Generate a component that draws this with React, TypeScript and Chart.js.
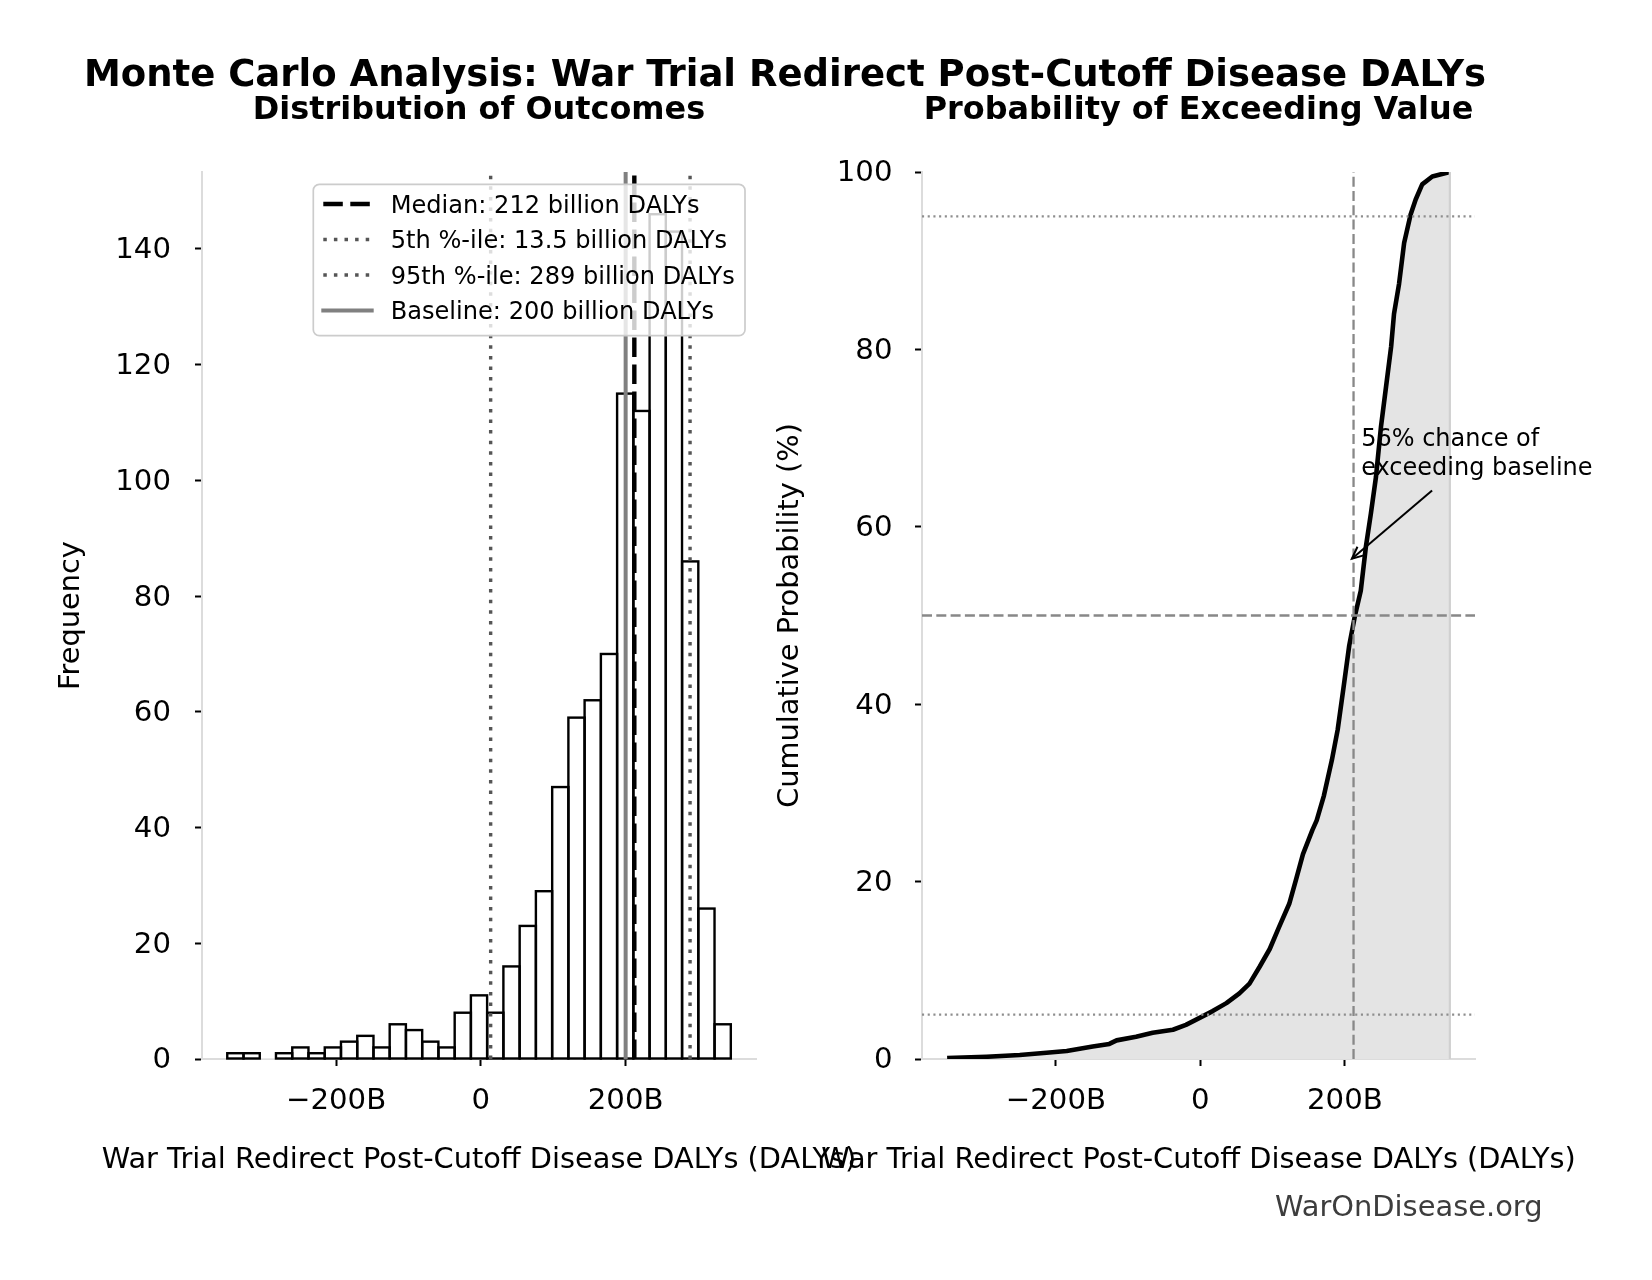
import React, { useEffect, useRef } from 'react';
import { Chart, registerables } from 'chart.js';

Chart.register(...registerables);

const FONT = '"DejaVu Sans", "Liberation Sans", sans-serif';

// ---------- Data ----------
const suptitleText = 'Monte Carlo Analysis: War Trial Redirect Post-Cutoff Disease DALYs';
const leftTitle = 'Distribution of Outcomes';
const rightTitle = 'Probability of Exceeding Value';
const xAxisTitle = 'War Trial Redirect Post-Cutoff Disease DALYs (DALYs)';
const leftYTitle = 'Frequency';
const rightYTitle = 'Cumulative Probability (%)';
const watermarkText = 'WarOnDisease.org';

// histogram bins (centers in billions of DALYs) and counts
const binCenters = [-339.2, -316.7, -294.3, -271.9, -249.4, -227.0, -204.5, -182.1, -159.6, -137.2, -114.8, -92.3, -69.9, -47.4, -25.0, -2.6, 19.9, 42.3, 64.8, 87.2, 109.7, 132.1, 154.5, 177.0, 199.4, 221.9, 244.3, 266.7, 289.2, 311.6, 334.1];
const binCounts = [1, 1, 0, 1, 2, 1, 2, 3, 4, 2, 6, 5, 3, 2, 8, 11, 8, 16, 23, 29, 47, 59, 62, 70, 115, 112, 146, 143, 86, 26, 6];

const medianValue = 212;
const p5Value = 13.5;
const p95Value = 289;
const baselineValue = 200;

const legendLabels = [
  'Median: 212 billion DALYs',
  '5th %-ile: 13.5 billion DALYs',
  '95th %-ile: 289 billion DALYs',
  'Baseline: 200 billion DALYs',
];

// cumulative distribution (billions, percent)
const cdfValues = [-350.5, -296, -250, -213, -185, -149, -126, -116, -89, -66, -38, -20, 3, 17, 36, 54, 68, 82, 96, 109, 123, 132, 142, 155, 161, 171, 182, 190, 198, 206, 214, 222, 229, 236, 243, 250, 257, 264, 268, 275, 282, 291, 298, 307, 321, 345.3];
const cdfPercent = [0.1, 0.25, 0.45, 0.7, 0.9, 1.4, 1.7, 2.1, 2.5, 2.95, 3.3, 3.85, 4.8, 5.4, 6.3, 7.4, 8.5, 10.4, 12.4, 14.9, 17.5, 20.1, 23.1, 25.8, 26.9, 29.7, 33.7, 37.1, 41.8, 46.6, 50.0, 52.8, 57.7, 61.5, 65.6, 71.3, 75.8, 80.3, 84.0, 87.4, 92.0, 95.2, 96.9, 98.6, 99.5, 100];
const dataMaxValue = 345.3;
const dottedPercents = [95, 5];
const dashedPercents = [50];

// axes
const xRange = [-385.3, 380.1];
const xTickValues = [-200, 0, 200];
const xTickLabels = ['\u2212200B', '0', '200B'];
const freqTicks = [0, 20, 40, 60, 80, 100, 120, 140];
const freqMax = 153.3;
const pctTicks = [0, 20, 40, 60, 80, 100];
const pctMax = 100;

// annotation (data coordinates: billions, percent)
const annotationLines = ['56% chance of', 'exceeding baseline'];
const annotationTextAt = [222.6, 69.1];
const annotationTip = [209.7, 56.4];
const annotationTail = [320.7, 64.1];

// ---------- Styles ----------
const medianStyle = { color: '#000000', width: 4.4, dash: [19.5, 7.5], cap: 'butt' };
const pctStyle = { color: '#555555', width: 3.4, dash: [3.5, 7.1], cap: 'butt' };
const baseStyle = { color: '#808080', width: 4, dash: [] as number[], cap: 'square' };
const legendStyles = [medianStyle, pctStyle, pctStyle, baseStyle];
const refDashed = { color: '#888888', width: 2.3, dash: [10, 4.3] };
const refDotted = { color: '#8e8e8e', width: 2.1, dash: [2.1, 3.6] };

const vline = (x: number, top: number, st: any, order = 1) => ({
  type: 'line' as const,
  data: [{ x, y: 0 }, { x, y: top }],
  borderColor: st.color,
  borderWidth: st.width,
  borderDash: st.dash,
  pointRadius: 0,
  fill: false,
  tension: 0,
  order,
});

const hline = (y: number, st: any) => ({
  type: 'line' as const,
  data: [{ x: xRange[0], y }, { x: xRange[1], y }],
  borderColor: st.color,
  borderWidth: st.width,
  borderDash: st.dash,
  pointRadius: 0,
  fill: false,
  tension: 0,
  order: 0,
});

const zeroPad = (s: any) => {
  s.paddingTop = 0;
  s.paddingBottom = 0;
  s.paddingLeft = 0;
  s.paddingRight = 0;
};

const makeX = (height: number) => ({
  type: 'linear' as const,
  min: xRange[0],
  max: xRange[1],
  offset: false,
  grid: { display: true, drawOnChartArea: false, drawTicks: true, tickLength: 7, tickWidth: 2, tickColor: '#000', offset: false },
  border: { display: true, color: '#dcdcdc', width: 2 },
  ticks: {
    autoSkip: false,
    maxRotation: 0,
    minRotation: 0,
    padding: 18.3,
    color: '#000',
    font: { family: FONT, size: 29.2 },
    callback: (v: any) => {
      const i = xTickValues.indexOf(Number(v));
      return i >= 0 ? xTickLabels[i] : '';
    },
  },
  afterBuildTicks: (s: any) => {
    s.ticks = xTickValues.map((v) => ({ value: v }));
  },
  afterFit: (s: any) => {
    s.height = height;
    zeroPad(s);
  },
});

const makeY = (max: number, ticks: number[], width: number, pad: number, title: string, titlePad: number) => ({
  type: 'linear' as const,
  min: 0,
  max,
  grid: { display: true, drawOnChartArea: false, drawTicks: true, tickLength: 7, tickWidth: 2, tickColor: '#000' },
  border: { display: true, color: '#dcdcdc', width: 2 },
  ticks: {
    autoSkip: false,
    padding: pad,
    labelOffset: 1.8,
    color: '#000',
    font: { family: FONT, size: 29.2 },
    callback: (v: any) => String(v),
  },
  afterBuildTicks: (s: any) => {
    s.ticks = ticks.map((v) => ({ value: v }));
  },
  afterFit: (s: any) => {
    s.width = width;
    zeroPad(s);
  },
  title: {
    display: true,
    text: title,
    color: '#000',
    font: { family: FONT, size: 28.8 },
    padding: { top: titlePad, bottom: 0 },
  },
});

const panelTexts = (title: string) => ({
  id: 'panelTexts',
  afterDraw(chart: any) {
    const { ctx, chartArea: ca } = chart;
    const cx = (ca.left + ca.right) / 2;
    ctx.save();
    ctx.fillStyle = '#000';
    ctx.textAlign = 'center';
    ctx.textBaseline = 'alphabetic';
    ctx.font = `bold 31.9px ${FONT}`;
    ctx.fillText(title, cx, ca.top - 53);
    ctx.font = `28.8px ${FONT}`;
    ctx.fillText(xAxisTitle, cx, ca.bottom + 109);
    ctx.restore();
  },
});

const histOutline = {
  id: 'histOutline',
  afterDatasetDraw(chart: any, args: any) {
    if (args.index !== 0) return;
    const ctx = chart.ctx;
    const meta = chart.getDatasetMeta(0);
    ctx.save();
    ctx.strokeStyle = '#000';
    ctx.lineWidth = 2.4;
    ctx.lineJoin = 'miter';
    meta.data.forEach((el: any) => {
      const { x, y, base, width } = el.getProps(['x', 'y', 'base', 'width'], true);
      const h = base - y;
      if (h <= 0.5) return;
      ctx.strokeRect(x - width / 2, y, width, h);
    });
    ctx.restore();
  },
};

const leftExtras = {
  id: 'leftExtras',
  afterDatasetsDraw(chart: any) {
    const { ctx, chartArea: ca } = chart;
    const w = 431.7;
    const h = 151.4;
    const x0 = ca.right - 11 - w;
    const y0 = ca.top + 12.3;
    ctx.save();
    ctx.beginPath();
    if (ctx.roundRect) ctx.roundRect(x0, y0, w, h, 6);
    else ctx.rect(x0, y0, w, h);
    ctx.fillStyle = 'rgba(255,255,255,0.8)';
    ctx.fill();
    ctx.lineWidth = 1.7;
    ctx.strokeStyle = '#cccccc';
    ctx.stroke();
    legendLabels.forEach((label, i) => {
      const base = y0 + 28.4 + i * 35.5;
      const cy = base - 8.7;
      const st = legendStyles[i];
      ctx.beginPath();
      ctx.setLineDash(st.dash);
      ctx.lineDashOffset = 0;
      ctx.lineWidth = st.width;
      ctx.strokeStyle = st.color;
      ctx.lineCap = st.cap;
      ctx.moveTo(x0 + 10, cy);
      ctx.lineTo(x0 + 58.4, cy);
      ctx.stroke();
      ctx.setLineDash([]);
      ctx.fillStyle = '#000';
      ctx.font = `24.1px ${FONT}`;
      ctx.textAlign = 'left';
      ctx.textBaseline = 'alphabetic';
      ctx.fillText(label, x0 + 77.4, base);
    });
    ctx.restore();
  },
  afterDraw(chart: any) {
    const { ctx } = chart;
    ctx.save();
    ctx.fillStyle = '#000';
    ctx.textAlign = 'center';
    ctx.textBaseline = 'alphabetic';
    ctx.font = `bold 37px ${FONT}`;
    ctx.fillText(suptitleText, 785, 86);
    ctx.textAlign = 'left';
    ctx.fillStyle = '#3d3d3d';
    ctx.font = `28.9px ${FONT}`;
    ctx.fillText(watermarkText, 1275, 1215.5);
    ctx.restore();
  },
};

const annotationPlugin = {
  id: 'annotationPlugin',
  afterDatasetsDraw(chart: any) {
    const { ctx } = chart;
    const xs = chart.scales.x;
    const ys = chart.scales.y;
    const tx = xs.getPixelForValue(annotationTextAt[0]);
    const ty = ys.getPixelForValue(annotationTextAt[1]);
    ctx.save();
    ctx.fillStyle = '#000';
    ctx.font = `24px ${FONT}`;
    ctx.textAlign = 'left';
    ctx.textBaseline = 'alphabetic';
    annotationLines.forEach((line, i) => ctx.fillText(line, tx, ty + i * 28.8));
    const px = xs.getPixelForValue(annotationTip[0]);
    const py = ys.getPixelForValue(annotationTip[1]);
    const qx = xs.getPixelForValue(annotationTail[0]);
    const qy = ys.getPixelForValue(annotationTail[1]);
    const dx = qx - px;
    const dy = qy - py;
    const len = Math.hypot(dx, dy) || 1;
    const ux = dx / len;
    const uy = dy / len;
    const nx = -uy;
    const ny = ux;
    const L = 12;
    const W = 5.5;
    ctx.strokeStyle = '#000';
    ctx.lineWidth = 2;
    ctx.setLineDash([]);
    ctx.beginPath();
    ctx.moveTo(qx, qy);
    ctx.lineTo(px, py);
    ctx.stroke();
    ctx.beginPath();
    ctx.moveTo(px + ux * L + nx * W, py + uy * L + ny * W);
    ctx.lineTo(px, py);
    ctx.lineTo(px + ux * L - nx * W, py + uy * L - ny * W);
    ctx.stroke();
    ctx.restore();
  },
};

export default function App() {
  const leftRef = useRef<HTMLCanvasElement>(null);
  const rightRef = useRef<HTMLCanvasElement>(null);

  useEffect(() => {
    if (!leftRef.current || !rightRef.current) return;

    const left = new Chart(leftRef.current, {
      type: 'bar',
      data: {
        datasets: [
          {
            type: 'bar',
            data: binCenters.map((x, i) => ({ x, y: binCounts[i] })),
            backgroundColor: '#ffffff',
            borderWidth: 0,
            barPercentage: 1,
            categoryPercentage: 1,
            order: 10,
          } as any,
          vline(medianValue, freqMax, medianStyle),
          vline(p5Value, freqMax, pctStyle),
          vline(p95Value, freqMax, pctStyle),
          vline(baselineValue, freqMax, baseStyle),
        ],
      },
      options: {
        responsive: false,
        animation: false,
        devicePixelRatio: 1,
        events: [],
        layout: { padding: { left: 0, top: 172, right: 896, bottom: 105 } },
        plugins: { legend: { display: false }, tooltip: { enabled: false }, title: { display: false } },
        scales: {
          x: makeX(116) as any,
          y: makeY(freqMax, freqTicks, 202, 24, leftYTitle, 54.5) as any,
        },
      },
      plugins: [histOutline, leftExtras, panelTexts(leftTitle)],
    });

    const right = new Chart(rightRef.current, {
      type: 'line',
      data: {
        datasets: [
          {
            type: 'line',
            data: cdfValues.map((x, i) => ({ x, y: cdfPercent[i] })),
            borderColor: '#000000',
            borderWidth: 4.6,
            backgroundColor: '#e4e4e4',
            fill: 'origin',
            pointRadius: 0,
            tension: 0,
            borderJoinStyle: 'round',
            order: 2,
          } as any,
          vline(dataMaxValue, pctMax, { color: '#d0d0d0', width: 2.2, dash: [] }, 1),
          ...dottedPercents.map((p) => hline(p, refDotted)),
          ...dashedPercents.map((p) => hline(p, refDashed)),
          vline(medianValue, pctMax, refDashed, 0),
        ],
      },
      options: {
        responsive: false,
        animation: false,
        devicePixelRatio: 1,
        events: [],
        layout: { padding: { left: 700, top: 172, right: 177, bottom: 105 } },
        plugins: { legend: { display: false }, tooltip: { enabled: false }, title: { display: false } },
        scales: {
          x: makeX(116) as any,
          y: makeY(pctMax, pctTicks, 222, 22.5, rightYTitle, 73.6) as any,
        },
      },
      plugins: [annotationPlugin, panelTexts(rightTitle)],
    });

    return () => {
      left.destroy();
      right.destroy();
    };
  }, []);

  const canvasStyle: React.CSSProperties = { position: 'absolute', left: 0, top: 0, width: 1652, height: 1280 };
  return (
    <div style={{ position: 'absolute', left: 0, top: 0, width: 1652, height: 1280, background: '#ffffff', overflow: 'hidden' }}>
      <canvas ref={leftRef} width={1652} height={1280} style={canvasStyle} />
      <canvas ref={rightRef} width={1652} height={1280} style={canvasStyle} />
    </div>
  );
}
